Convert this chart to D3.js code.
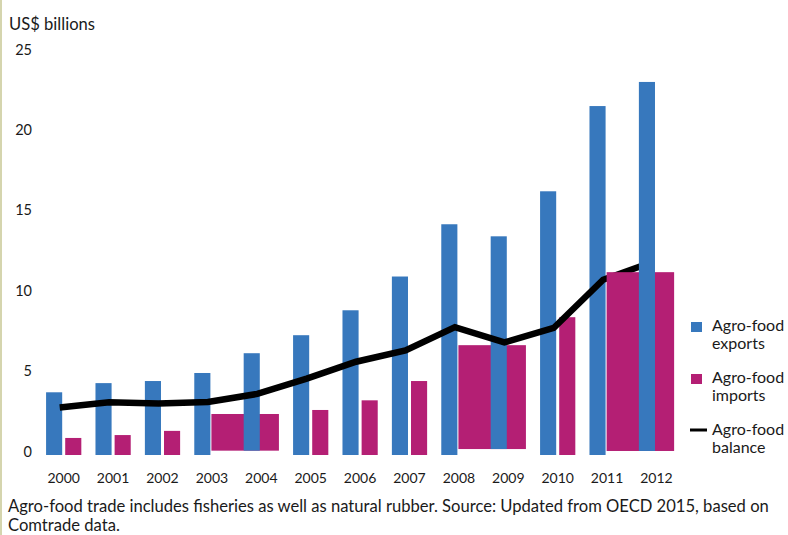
<!doctype html>
<html>
<head>
  <meta charset="utf-8">
  <script src="https://cdnjs.cloudflare.com/ajax/libs/d3/7.8.5/d3.min.js"></script>
  <style>
    body {
      margin: 0;
      background: #fff;
    }
    svg text {
      font-family: Lato, "Open Sans", sans-serif;
      fill: #1a1a1a;
    }
  </style>
</head>
<body>
  <svg id="chart" width="788" height="535"></svg>
<script>
  var years = ["2000", "2001", "2002", "2003", "2004", "2005", "2006", "2007", "2008", "2009", "2010", "2011", "2012"];
  var exportsVals = [3.9, 4.47, 4.6, 5.1, 6.33, 7.45, 9.0, 11.1, 14.35, 13.6, 16.4, 21.7, 23.2];
  var importsVals = [1.06, 1.24, 1.5, 2.55, 2.55, 2.8, 3.4, 4.6, 6.83, 6.83, 8.57, 11.37, 11.37];
  var balanceVals = [2.96, 3.28, 3.2, 3.3, 3.8, 4.75, 5.8, 6.5, 7.95, 7.0, 7.9, 10.9, 12.0];
  // import bars that come out merged over two years in the source picture
  var mergedImports = [
    {from: "2003", to: "2004", base: 0.27},
    {from: "2008", to: "2009", base: 0.37},
    {from: "2011", to: "2012", base: 0.25}
  ];
  var yTicks = [0, 5, 10, 15, 20, 25];
  var legendItems = [
    {label: ["Agro-food", "exports"], kind: "exports"},
    {label: ["Agro-food", "imports"], kind: "imports"},
    {label: ["Agro-food", "balance"], kind: "balance"}
  ];

  var colors = {exports: "#3778bd", imports: "#b41f74", balance: "#000"};

  var svg = d3.select("#chart");

  // thin border on the left edge
  svg.append("rect")
    .attr("x", 0).attr("y", 0)
    .attr("width", 2).attr("height", 535)
    .attr("fill", "#d5d5ae");

  var x = d3.scaleBand().domain(years).range([39, 39 + 13 * 49.4]);
  var x1 = d3.scaleBand().domain(["exports", "imports"])
    .range([0, x.bandwidth()]).paddingInner(0.158).paddingOuter(0.37);
  var y = d3.scaleLinear().domain([0, 25]).range([455, 53]);

  var rows = years.map(function(yr, i) {
    return {year: yr, exp: exportsVals[i], imp: importsVals[i], bal: balanceVals[i]};
  });
  var mergedFrom = mergedImports.map(function(m) { return m.from; });
  var mergedTo = mergedImports.map(function(m) { return m.to; });
  function baseOf(yr) {
    var m = mergedImports.filter(function(d) { return d.to === yr; })[0];
    return m ? m.base : 0;
  }

  // y labels
  svg.append("text")
    .attr("x", 9).attr("y", 30)
    .style("font-size", "16.6px")
    .text("US$ billions");

  svg.append("g").selectAll("text")
    .data(yTicks)
    .join("text")
    .attr("x", 32)
    .attr("y", function(d) { return y(d) - 2; })
    .attr("text-anchor", "end")
    .attr("dominant-baseline", "middle")
    .style("font-size", "14.5px")
    .text(function(d) { return d; });

  svg.append("g").selectAll("text")
    .data(years)
    .join("text")
    .attr("x", function(d) { return x(d) + x.bandwidth() / 2; })
    .attr("y", 483)
    .attr("text-anchor", "middle")
    .style("font-size", "14px")
    .text(function(d) { return d; });

  var back = svg.append("g");
  var lineLayer = svg.append("g");
  var front = svg.append("g");

  // export bars (not the second year of a merged pair)
  back.selectAll("rect.exp")
    .data(rows.filter(function(d) { return mergedTo.indexOf(d.year) < 0; }))
    .join("rect")
    .attr("class", "exp")
    .attr("x", function(d) { return x(d.year) + x1("exports"); })
    .attr("y", function(d) { return y(d.exp); })
    .attr("width", x1.bandwidth())
    .attr("height", function(d) { return y(0) - y(d.exp); })
    .attr("fill", colors.exports);

  // normal import bars
  back.selectAll("rect.imp")
    .data(rows.filter(function(d) {
      return mergedTo.indexOf(d.year) < 0 && mergedFrom.indexOf(d.year) < 0;
    }))
    .join("rect")
    .attr("class", "imp")
    .attr("x", function(d) { return x(d.year) + x1("imports"); })
    .attr("y", function(d) { return y(d.imp); })
    .attr("width", x1.bandwidth())
    .attr("height", function(d) { return y(0) - y(d.imp); })
    .attr("fill", colors.imports);

  // merged import blocks + the export bar drawn over them
  mergedImports.forEach(function(m, i) {
    var layer = i === mergedImports.length - 1 ? front : back;
    var fromRow = rows[years.indexOf(m.from)];
    var toRow = rows[years.indexOf(m.to)];
    var x0 = x(m.from) + x1("imports") - 2;
    var xEnd = x(m.to) + x1("imports") + x1.bandwidth();
    layer.append("rect")
      .attr("x", x0)
      .attr("y", y(fromRow.imp))
      .attr("width", xEnd - x0)
      .attr("height", y(m.base) - y(fromRow.imp))
      .attr("fill", colors.imports);
    layer.append("rect")
      .attr("x", x(m.to) + x1("exports"))
      .attr("y", y(toRow.exp))
      .attr("width", x1.bandwidth())
      .attr("height", y(baseOf(m.to)) - y(toRow.exp))
      .attr("fill", colors.exports);
  });

  var line = d3.line()
    .x(function(d) { return x(d.year) + x.bandwidth() / 2 - 4; })
    .y(function(d) { return y(d.bal); });

  lineLayer.append("path")
    .datum(rows)
    .attr("d", line)
    .attr("fill", "none")
    .attr("stroke", colors.balance)
    .attr("stroke-width", 6.5);

  // legend
  var legend = svg.append("g").attr("transform", "translate(690,0)");
  var legendY = [331, 383, 435];
  legendItems.forEach(function(item, i) {
    var g = legend.append("g").attr("transform", "translate(0," + legendY[i] + ")");
    if (item.kind === "balance") {
      g.append("line")
        .attr("x1", 0).attr("x2", 17)
        .attr("y1", -5).attr("y2", -5)
        .attr("stroke", colors.balance)
        .attr("stroke-width", 3);
    } else {
      g.append("rect")
        .attr("x", 1).attr("y", -9)
        .attr("width", 11).attr("height", 10)
        .attr("fill", colors[item.kind]);
    }
    g.append("text")
      .attr("x", 22)
      .style("font-size", "16px")
      .selectAll("tspan")
      .data(item.label)
      .join("tspan")
      .attr("x", 22)
      .attr("dy", function(d, j) { return j === 0 ? 0 : 18; })
      .text(function(d) { return d; });
  });

  // footnote
  var note = svg.append("text")
    .attr("x", 8).attr("y", 512)
    .style("font-size", "16.6px");
  note.append("tspan").attr("x", 8)
    .text("Agro-food trade includes fisheries as well as natural rubber. Source: Updated from OECD 2015, based on");
  note.append("tspan").attr("x", 8).attr("dy", 19)
    .text("Comtrade data.");
</script>
</body>
</html>
